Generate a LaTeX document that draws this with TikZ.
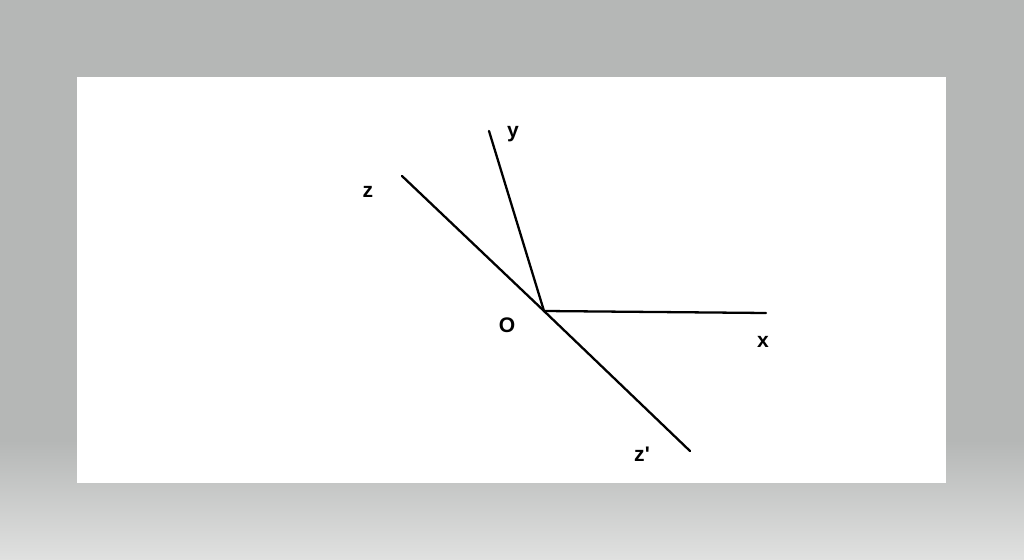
\documentclass[tikz,border=0pt]{standalone}
\usepackage{fontspec}
\setmainfont{Liberation Sans}
\definecolor{bggray}{RGB}{181,183,182}
\definecolor{bglight}{RGB}{224,225,224}
\tikzset{
	ray/.style={line width=1.3pt, line cap=round},
	lbl/.style={font=\bfseries\fontsize{12}{14}\selectfont, inner sep=0pt}
}
\begin{document}
\begin{tikzpicture}[x=0.02cm, y=-0.02cm]
				% background and sheet
				\fill[bggray] (0,0) rectangle (1024,560);
				\shade[top color=bggray, bottom color=bglight] (0,440) rectangle (1024,560);
				\fill[white] (77,77) rectangle (946,483);
				\useasboundingbox (0,0) rectangle (1024,560);
				% points
				\coordinate (O) at (544,311);
				\coordinate (X) at (766,313);
				\coordinate (Y) at (489,131);
				\coordinate (Z) at (402,176);
				\coordinate (Zp) at (690,451);
				\draw[ray] (Z) -- (O) -- (Zp);
				\draw[ray] (Y) -- (O) -- (X);
				\node[lbl] (labO) at (507,325) {O};
				\node[lbl] (labX) at (763,342) {x};
				\node[lbl] (labY) at (513,134) {y};
				\node[lbl] (labZ) at (368,192) {z};
				\node[lbl] (labZp) at (642,454) {z\textquotesingle};
			\end{tikzpicture}
\end{document}
